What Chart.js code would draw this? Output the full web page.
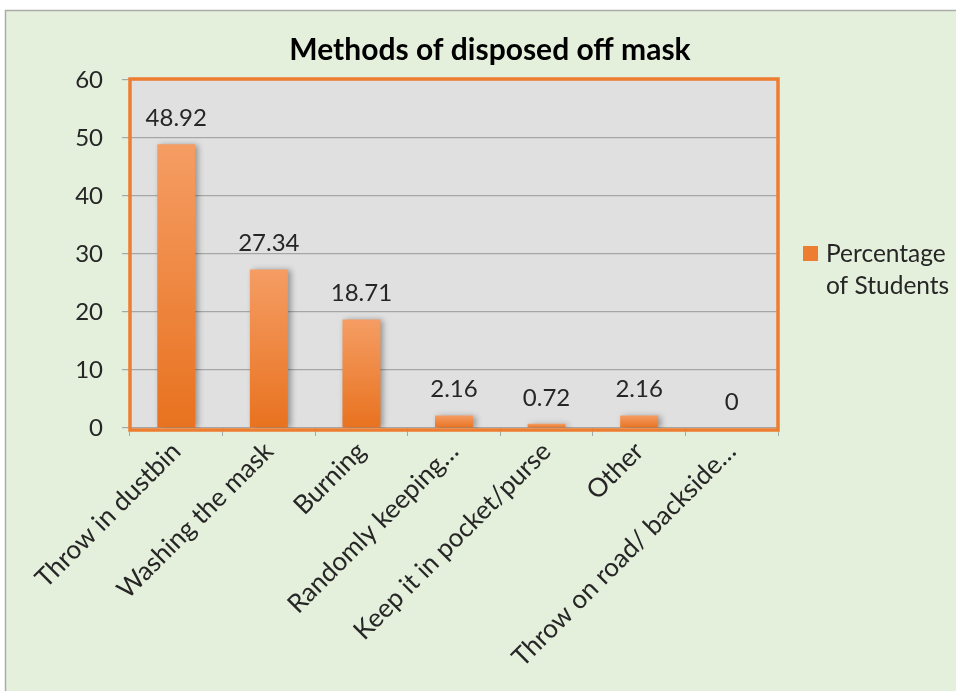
<!DOCTYPE html>
<html><head><meta charset="utf-8">
<script src="https://cdn.jsdelivr.net/npm/chart.js@4/dist/chart.umd.min.js"></script>
<style>html,body{margin:0;padding:0;background:#fff;overflow:hidden}#wrap{position:absolute;left:0;top:0;width:956px;height:691px}</style>
</head><body><div id="wrap"><canvas id="c" width="956" height="691"></canvas></div>
<script>
const categories = ["Throw in dustbin","Washing the mask","Burning","Randomly keeping\u2026","Keep it in pocket/purse","Other","Throw on road/ backside\u2026"];
const percentages = [48.92, 27.34, 18.71, 2.16, 0.72, 2.16, 0];
const valueLabels = ["48.92","27.34","18.71","2.16","0.72","2.16","0"];
const yTicks = [0,10,20,30,40,50,60];
const chartTitle = "Methods of disposed off mask";
const legendLines = ["Percentage","of Students"];

const FONT = "Lato, 'Liberation Sans', sans-serif";
const TXT = '#262626';

const framePlugin = {
  id:'frame',
  beforeDraw(chart){
    const c = chart.ctx;
    c.save();
    c.fillStyle='#fff'; c.fillRect(0,0,956,691);
    c.fillStyle='#E4EFDC'; c.fillRect(5,10,1000,700);
    c.strokeStyle='#A9ADA6'; c.lineWidth=1.5;
    c.beginPath(); c.moveTo(5.5,700); c.lineTo(5.5,10.5); c.lineTo(1000,10.5); c.stroke();
    const a = chart.chartArea;
    c.fillStyle='#E0E0E0'; c.fillRect(a.left,a.top,a.right-a.left,a.bottom-a.top);
    // title
    c.fillStyle='#000'; c.font="bold 30px "+FONT; c.textAlign='center'; c.textBaseline='middle';
    c.fillText(chartTitle, 490, 50);
    // legend
    c.fillStyle='#ED7D31'; c.fillRect(803,246,15,15);
    c.fillStyle=TXT; c.font="24.5px "+FONT; c.textAlign='left';
    legendLines.forEach((t,i)=>c.fillText(t, 826, 254 + i*32));
    c.restore();
  },
  beforeDatasetsDraw(chart){
    const c = chart.ctx; c.save();
    c.shadowColor='rgba(0,0,0,0.35)'; c.shadowBlur=6; c.shadowOffsetX=3; c.shadowOffsetY=1;
  },
  afterDatasetsDraw(chart){
    const c = chart.ctx; c.restore();
    c.save();
    const a = chart.chartArea;
    c.strokeStyle='#ED7D31'; c.lineWidth=3.5;
    c.strokeRect(a.left, a.top-1, a.right-a.left, a.bottom-a.top+3);
    const meta = chart.getDatasetMeta(0);
    c.fillStyle=TXT; c.font="24px "+FONT; c.textAlign='center'; c.textBaseline='middle';
    meta.data.forEach((el,i)=>{ c.fillText(valueLabels[i], el.x, el.y-26); });
    c.restore();
  }
};

new Chart(document.getElementById('c'), {
  type:'bar',
  data:{ labels:categories, datasets:[{ label:legendLines.join(' '), data:percentages,
    backgroundColor:(ctx)=>{
      const ch = ctx.chart; const ys = ch.scales.y;
      if(!ys || !ctx.parsed || ys.top===undefined) return '#ED7D31';
      const t = ys.getPixelForValue(ctx.parsed.y), b = ys.getPixelForValue(0);
      if(!isFinite(t) || !isFinite(b) || Math.abs(b-t)<0.5) return '#F08840';
      const g = ch.ctx.createLinearGradient(0,t,0,b);
      g.addColorStop(0,'#F59D64'); g.addColorStop(1,'#E8721F');
      return g;
    },
    borderWidth:0, barPercentage:0.41, categoryPercentage:1 }]},
  options:{
    responsive:false, animation:false, devicePixelRatio:1,
    layout:{ padding:{ left:0, right:178, top:80, bottom:0 } },
    plugins:{ legend:{display:false}, title:{display:false}, tooltip:{enabled:false} },
    scales:{
      x:{
        grid:{ drawOnChartArea:false, drawTicks:true, tickLength:8, color:'#A6A6A6', offset:true },
        border:{ display:false },
        ticks:{ minRotation:45, maxRotation:45, autoSkip:false, color:TXT, font:{family:FONT, size:26}, padding:0 },
        afterFit(s){ s.height = 691-428; }
      },
      y:{
        min:0, max:60,
        afterBuildTicks(s){ s.ticks = yTicks.map(v=>({value:v})); },
        grid:{ color:'#A6A6A6', lineWidth:1.2, tickLength:8 },
        border:{ display:false },
        ticks:{ color:TXT, font:{family:FONT, size:24}, padding:19 },
        afterFit(s){ s.width = 130; }
      }
    }
  },
  plugins:[framePlugin]
});
</script></body></html>
